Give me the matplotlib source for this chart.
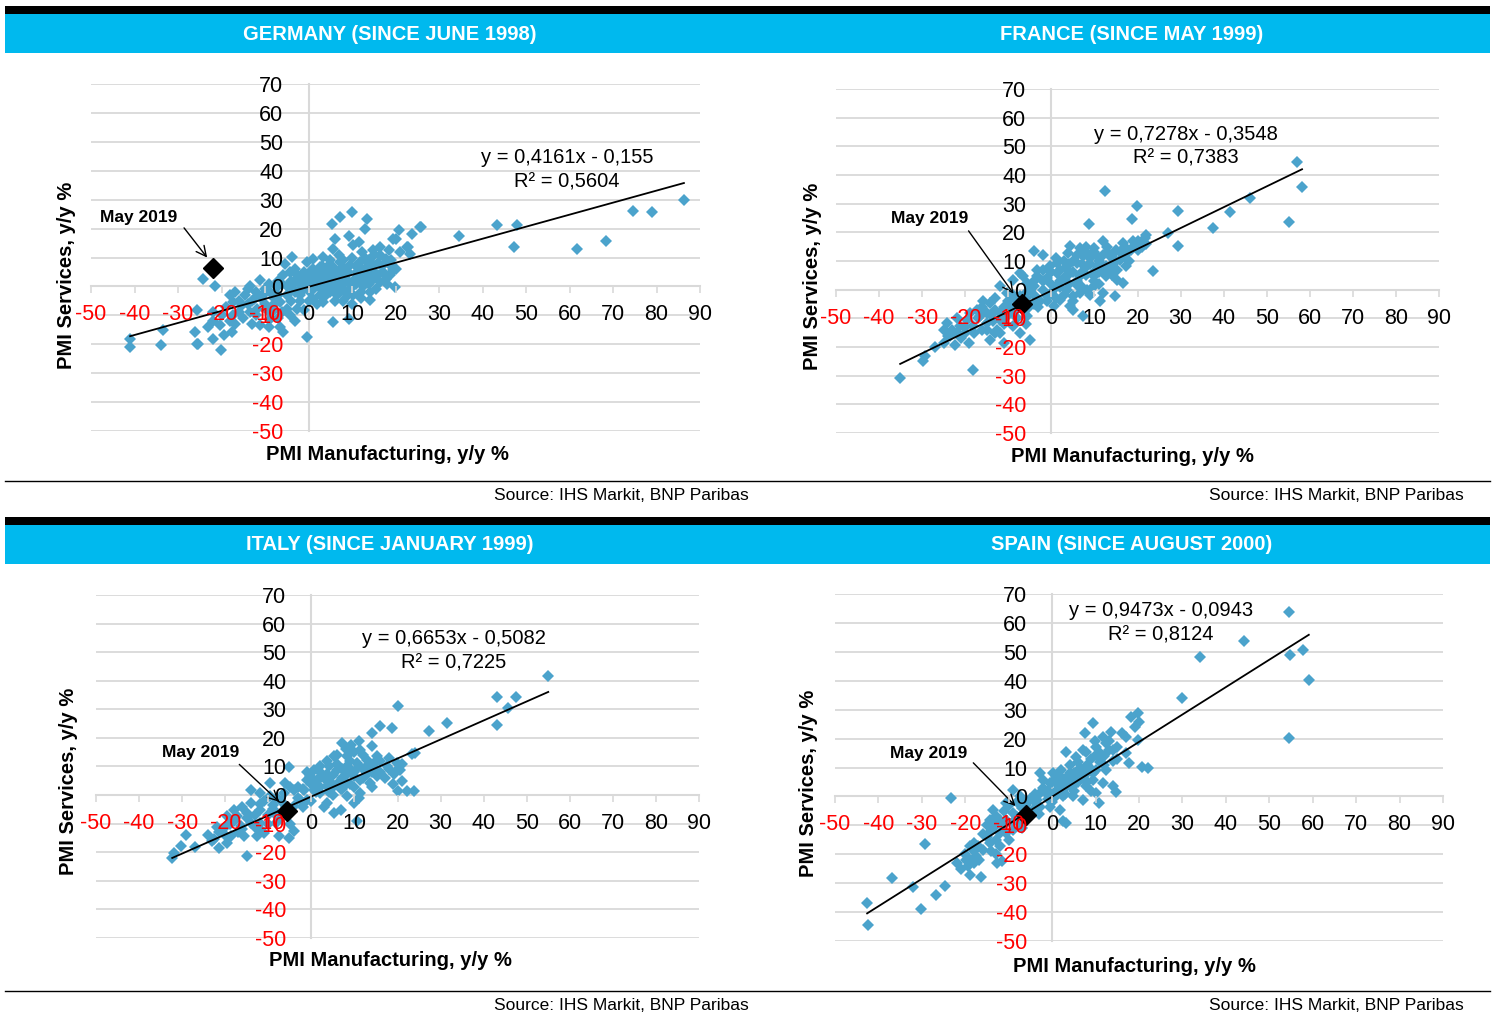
import numpy as np
import matplotlib
matplotlib.use("Agg")
import matplotlib.pyplot as plt
from matplotlib.patches import Rectangle

W, H = 1494, 1014
plt.rcParams['font.family'] = ['DejaVu Sans Condensed', 'Liberation Sans', 'DejaVu Sans']

BLUE = '#4ba3cc'
CYAN = '#00b9ee'
GRID = '#d9d9d9'

# ---- data ----
ger_points = [
    (-41, -18.3), (-41, -21), (-34, -20.4), (-33.4, -15), (-25.6, -20),
    (-26.1, -15.8), (-25.3, -19.8), (-25.7, -8.3), (-24.2, 2.6), (-21.5, 0.3), (-21.9, -8.9),
    (-20.3, -13.5), (-20.1, -21.9), (-19.5, -16.9), (-21.9, -18.1), (-17.7, -15.8), (-17.3, -10),
    (-17.3, -5.4), (-16.9, -2), (-15.4, -6.5), (-14.6, -3.1), (-13.4, 0.3), (-13.4, -8.9),
    (-12.6, -4.3), (-11.9, -7.7), (-11.1, -13.5), (-11.1, 2.1), (-10.4, -3.1), (-9.6, -7.7),
    (-8.8, -11.2), (-8.8, -2), (-8.1, -6.5), (-7.3, -0.2), (-6.5, -14), (-6.5, -5.4), (-5.8, -15.8),
    (-5.8, 3.8), (-5.4, 7.9), (-5, -3.1), (-5, -7.7), (-4.2, -10), (-4.2, 5), (-3.8, 10.2),
    (-3.5, -0.9), (-2.7, -7.7), (-2.7, 3.8), (-1.9, -3.1), (-1.9, 0.9), (-1.1, 5), (-0.4, 8.4),
    (-0.4, 1.5), (-0.4, -17.5), (0.3, -2), (0.8, 5.6), (1.1, 9.6), (1.1, 2.6), (1.1, -4.3),
    (1.9, 0.3), (2.7, 3.8), (2.7, 6.7), (2.7, -3.1), (3.4, 10.2), (3.4, -5.4), (4.2, 5), (4.2, -0.9),
    (4.6, 7.3), (5, 1.5), (5.4, 21.7), (5.7, 13), (5.7, 3.8), (5.7, 6.7), (5.7, -12.4), (6.1, 16.5),
    (6.5, -3.1), (7.2, 24), (7.2, 8.4), (7.2, 2.6), (7.2, -2), (8, 6.7), (8, 0.9), (8.7, 3.8),
    (9.2, 17.6), (9.2, -11.2), (9.5, -0.9), (9.5, 7.3), (9.9, 25.7), (10.3, 14.2), (10.3, 1.5),
    (10.3, -3.1), (11.1, 5), (11.5, 15.3), (11.8, 2.6), (11.8, 8.4), (12.2, 11.9), (12.6, 0.3),
    (13, 20), (13.4, 23.2), (13.4, 8.4), (13.4, 3.8), (14.1, 5.6), (14.2, -2), (14.2, -4.8),
    (14.9, 12.5), (14.9, 7.3), (14.9, 2.6), (15.6, -0.9), (16.4, 10.8), (16.4, 13.6), (16.4, 1.5),
    (17.2, 5), (17.9, 2.6), (17.9, 9.6), (18.4, 12.5), (18.8, 3.8), (18.8, 7.3), (19.4, 5.6),
    (19.5, 16.5), (19.9, -0.2), (20.2, 16.5), (20.7, 19.4), (22.6, 13.6), (22.9, 13.5),
    (23.4, 11.3), (23.8, 18.2), (25.7, 20.5), (25.9, 20.4),
    (2, 1), (3, 2), (4, 3), (6, 5), (8, 4), (9, 2), (11, 3), (12, 6), (13, 1), (6, 0), (3, -1),
    (0, 0), (-1, 3), (-2, -1), (5, -2), (8, -5), (10, -6), (12, -2), (15, 5), (16, 8), (-3, 2),
    (-6, 1), (-8, -4), (-10, -1), (-12, -2), (-14, -6), (-16, -9), (-18, -12), (-9, -9),
    (-22, -12), (-19, -7), (-18, -3), (-16, -5), (-15, -11), (-14, -1), (-13, -5), (-12, -10),
    (-11, -4), (-10, -6), (-9, 1), (-8, -8), (-7, -3), (-7, 2), (-6, -9), (-5, 0), (-4, -5), (-4, 2),
    (-3, -2), (-3, 6), (-2, 1), (-2, -5), (-1, -1), (-1, -8), (0, 3), (0, -5), (1, 6), (1, -1),
    (2, 4), (2, -6), (3, 0), (3, 7), (4, 1), (4, -3), (5, 4), (5, 9), (6, 2), (6, -5), (7, 5),
    (7, 11), (8, -1), (8, 9), (9, 5), (9, -3), (10, 10), (10, 0), (11, 1), (11, 7), (12, 4),
    (12, -4), (13, 6), (13, 10), (14, 1), (14, 9), (15, 3), (15, 11), (16, 4), (17, 7), (18, 1),
    (19, 9), (20, 6), (21, 12), (-20, -10), (-23, -14), (-17, -13), (-13, -13), (-9, -14),
    (-7, -11), (-3, -12),
    (34.6, 17.3), (43.3, 21.1), (47.9, 21.1), (47.3, 13.8), (61.7, 13.1), (68.4, 15.6),
    (74.6, 26), (79, 25.6), (86.3, 29.8),
]

fra_points = [
    (-35.1, -30.8), (-29.8, -25), (-29.4, -23.3), (-25, -18.6), (-25, -13.9), (-24.3, -11.6),
    (-23.5, -16.3), (-22.3, -19.2), (-21.9, -15.1), (-21.2, -12.8), (-19.6, -10.5), (-19.2, -18.6),
    (-18.1, -27.9), (-18.1, -12.8), (-17.3, -7), (-16.6, -9.3), (-15.8, -4.1), (-15, -13.9),
    (-15, -11.6), (-14.2, -17.4), (-14.2, -4.7), (-13.5, -11), (-13.1, -7), (-12.7, -13.9),
    (-11.9, 1.2), (-11.9, -10.5), (-11.1, -18.6), (-10.4, -1.2), (-10.4, -9.3), (-9.6, -5.8),
    (-8.8, 3.5), (-8.8, -12.8), (-8.1, -7), (-7.3, 5.8), (-7.3, -2.3), (-7.3, -15.1), (-6.5, 4.7),
    (-5.7, 2.3), (-5.7, -9.3), (-5.4, -6.4), (-5, -17.4), (-4.1, 13.4), (-4.1, 1.2), (-3.7, -2.3),
    (-3.4, 4.7), (-3.4, 7), (-2.6, -4.1), (-1.9, 12.2), (-1.9, 7), (-1.1, -2.3), (-0.3, 8.1),
    (0.5, -5.8), (1.3, 9.3), (1.3, 5.8), (2, -3.5), (3.6, 8.1), (3.6, 4.7), (3.6, 0), (3.9, 12.8),
    (4.3, 15.1), (4.3, -5.8), (5.1, -2.3), (5.1, -7), (5.9, 9.3), (5.9, 1.7), (6.7, 14.6),
    (6.7, 4.7), (6.7, -1.2), (7.4, 11.6), (7.4, -9.3), (8.2, 8.1), (8.2, 0), (8.8, 22.9),
    (9.8, 14.6), (9.8, 4.7), (9.8, 1.2), (10.5, 11.6), (10.5, 8.1), (11.3, -4.1), (12.1, 16.9),
    (12.1, -1.2), (12.4, 34.3), (12.8, 8.1), (12.8, 4.7), (13.6, 11.6), (14.8, -2.3), (15.2, 7),
    (15.2, 3.5), (15.9, 10.5), (16.7, 16.3), (16.7, 2.3), (17.4, 8.1), (18.6, 14), (18.8, 24.8),
    (19.8, 29.3), (21.7, 18), (23.6, 6.4), (27.1, 19.8), (29.3, 27.3), (29.4, 15.1),
    (0, 2), (2, 3), (4, 6), (5, 10), (7, 6), (9, 9), (11, 6), (13, 13), (14, 9), (15, 14), (17, 12),
    (19, 15), (20, 17), (22, 16), (-2, 0), (-4, -5), (-6, -3), (-8, -4), (-9, -8), (-11, -6),
    (-12, -15), (-14, -9), (-16, -14), (-20, -15), (-23, -14), (-1, 4), (1, 1), (3, -2), (10, 3),
    (11, 10), (8, 13),
    (-27, -20), (-24, -16), (-22, -10), (-20, -13), (-18, -15), (-17, -10), (-16, -6), (-15, -8),
    (-13, -15), (-12, -8), (-11, -12), (-10, -4), (-9, -2), (-8, -10), (-7, -6), (-6, -1),
    (-6, -12), (-5, 0), (-4, 3), (-3, -6), (-2, 3), (-1, -4), (0, 6), (0, -1), (1, 11), (1, -3),
    (2, 7), (2, 1), (3, 10), (3, 4), (4, 2), (4, 9), (5, 6), (5, -4), (6, 12), (6, 3), (7, 9),
    (7, 1), (8, 5), (8, 15), (9, 11), (9, -2), (10, 6), (10, 13), (11, 2), (12, 8), (12, 12),
    (13, 7), (13, 15), (14, 12), (14, 5), (15, 10), (16, 13), (17, 15), (18, 10), (19, 17),
    (20, 14), (21, 15), (22, 19), (-13, -3), (-19, -8), (-21, -17),
    (37.5, 21.6), (41.5, 27.2), (46.1, 32.1), (55.1, 23.7), (57, 44.6), (58.2, 35.9),
]

ita_points = [
    (-32.3, -21.9), (-31.9, -20.2), (-30.3, -17.9), (-29.2, -13.8), (-22.5, -15.5), (-21.4, -18.4),
    (-21.4, -12.8), (-19.5, -16.6), (-19.5, -7.4), (-18.7, -14.3), (-17.9, -5.1), (-17.2, -7.4),
    (-16.4, -10.8), (-15.7, -14.3), (-14.9, -21.4), (-14.9, -6.2), (-14.1, 1.9), (-14.1, -2.8),
    (-14.1, -9.7), (-12.6, -14.3), (-11.9, 0.8), (-11.9, -5.1), (-11.9, -9.7), (-11.1, -13.2),
    (-9.5, 4.3), (-9.5, -0.4), (-9, -3.3), (-8.7, -6.2), (-8.3, -9.7), (-7.5, -14.3), (-6.4, 0.8),
    (-6.1, 4.3), (-5.3, 9.7), (-5.3, -14.9), (-4.1, 1.9), (-4.1, -3.9), (-4.1, -12.6), (-2.6, -1.6),
    (-1.8, 1.9), (-1, 5.4), (-1, -1.6), (-0.2, 6.6), (0.5, 8.9), (0.5, 1.9), (1.3, 5.4), (2.1, 10.1),
    (2.1, 0.7), (3.6, 11.9), (3.6, 7.5), (3.6, 3.1), (3.6, -2.8), (5.2, 13.6), (5.2, 3.1),
    (5.2, -6.2), (6, 8.9), (6.8, 2), (6.8, -5.1), (7.1, 18.2), (8.3, 13.6), (8.3, 10.1), (8.3, 4.3),
    (8.3, -0.4), (9.1, 17.6), (9.8, 6.6), (9.8, -2.8), (10.6, 11.3), (10.6, -9.2), (11, 18.8),
    (11.4, 15.9), (11.4, 5.4), (11.4, 0.7), (12.9, 12.4), (12.9, 7.5), (13.7, 4.3), (14.1, 21.7),
    (14.5, 11.3), (15.2, 13.6), (15.2, 6.6), (16, 24.1), (17.6, 10.1), (18.7, 23.5), (19.1, 7.5),
    (19.9, 11.3), (20, 31.3), (20, 1.4), (20.6, 8.9), (21.1, 4.9), (22.2, 1.4), (23.4, 14.2),
    (23.8, 1.4), (24.1, 14.7), (27.3, 22.3), (31.5, 25.2),
    (1, 3), (2, 6), (4, 5), (6, 11), (7, 6), (9, 9), (10, 3), (12, 9), (14, 8), (16, 8), (-2, -4),
    (-3, 3), (-7, -2), (-10, -7), (-12, -3), (-13, -11), (-16, -12), (-18, -9), (-20, -11),
    (-23, -16),
    (-27, -18), (-24, -14), (-22, -11), (-20, -14), (-19, -10), (-17, -13), (-16, -4), (-15, -8),
    (-13, -7), (-12, -12), (-11, -2), (-10, -10), (-9, -5), (-8, -1), (-7, -8), (-6, -4),
    (-5, -10), (-5, 3), (-3, -1), (-2, 2), (-1, 8), (0, 4), (0, -2), (1, 1), (2, 8), (2, 3), (3, 6),
    (3, -4), (4, 10), (4, 1), (5, 7), (5, 0), (6, 4), (6, 14), (7, 9), (7, 2), (8, 7), (8, 16),
    (9, 12), (9, 4), (10, 8), (10, 15), (11, 10), (11, -1), (12, 6), (12, 14), (13, 10), (14, 3),
    (15, 9), (16, 12), (17, 6), (18, 9), (19, 4), (20, 9), (21, 11), (14, 17), (18, 13),
    (43.2, 34.4), (43.2, 24.6), (45.7, 30.6), (47.4, 34.4), (55, 41.8),
]

spa_points = [
    (-42.6, -36.9), (-42.3, -44.4), (-36.8, -28.3), (-32, -31.2), (-30.3, -38.9), (-29.2, -16.5),
    (-26.7, -34), (-24.6, -30.9), (-23.4, -0.6), (-19.8, -22), (-19.4, -24.2), (-19, -27.1),
    (-19, -21.9), (-17.9, -23.1), (-17.5, -20.7), (-16.8, -21.9), (-16.3, -27.9), (-16, -18.4),
    (-14.4, -8), (-14.4, -16.1), (-13.6, -4.6), (-12.9, -6.9), (-12.9, -15), (-12.7, -23),
    (-12.1, -12.7), (-12.1, -17.3), (-11.6, -22.4), (-10.6, -2.3), (-10.6, -8), (-10.6, -12.7),
    (-9, 2.3), (-9, -5.7), (-9, -11.5), (-7.5, 0), (-7.5, -9.2), (-6.7, -1.2), (-4.4, -4.6),
    (-3.6, -1.2), (-2.9, 8), (-2.9, 1.1), (-2.9, -3.5), (-2.1, 5.7), (-1.3, 1.1), (-0.6, 4.6),
    (-0.6, -3.5), (0.2, 8), (0.2, 0), (0.9, 4.6), (1.7, 6.9), (1.7, -4.6), (2.5, 5.7), (2.5, 0),
    (2.5, -8.6), (3.2, 15.5), (3.2, -9.2), (4, 8), (4.8, 5.7), (4.8, 0), (5.6, 13.8), (6.3, 9.8),
    (7.1, 6.3), (7.1, -1.2), (7.5, 21.8), (7.8, 15.5), (7.8, 3.5), (8.6, 10.3), (9.4, 25.5),
    (9.4, 5.7), (9.4, 8), (9.8, 19), (10.2, 14.3), (10.2, 1.1), (10.9, -2.3), (11.7, 20.7),
    (11.7, 4.6), (12.5, 18.4), (12.5, 9.2), (13.6, 22.4), (14, 12.1), (14, 3.5), (14.8, 1.7),
    (17.1, 20.7), (17.8, 11.5), (18.2, 27.6), (19.8, 28.8), (19.8, 19.5), (20.1, 25.9),
    (20.8, 10.2), (22.1, 9.8),
    (1, 2), (3, 3), (5, 4), (6, 7), (8, 8), (11, 12), (12, 14), (13, 16), (15, 17), (-1, -1),
    (-4, -2), (-5, -6), (-7, -4), (-8, -7), (-11, -10), (-14, -12), (-15, -14), (-18, -19),
    (-22, -23), (-20, -20), (-18, -16), (-17, -17), (-16, -13), (-15, -10), (-14, -19), (-13, -10),
    (-12, -8), (-11, -5), (-10, -15), (-10, -3), (-9, -9), (-8, -2), (-7, -11), (-6, -3), (-5, -1),
    (-4, 1), (-3, -6), (-2, 3), (-1, 2), (0, 5), (0, -2), (1, 7), (1, 0), (2, 4), (2, 9), (3, 6),
    (3, 1), (4, 4), (4, 11), (5, 8), (5, 2), (6, 5), (6, 12), (7, 9), (7, 16), (8, 11), (8, 5),
    (9, 13), (9, 2), (10, 9), (10, 17), (11, 15), (12, 11), (13, 19), (14, 16), (15, 13), (16, 22),
    (17, 15), (19, 24), (-19, -17), (-21, -25), (-13, -20),
    (29.8, 34.1), (34, 48.2), (44.1, 53.8), (54.5, 63.8), (54.7, 48.9), (57.7, 50.7),
    (59.1, 40.3), (54.5, 20.2),
]

# trend line coefficients and labels as printed on the chart
slopes = [0.4161, 0.7278, 0.6653, 0.9473]
intercepts = [-0.155, -0.3548, -0.5082, -0.0943]
eq_texts = ['y = 0,4161x - 0,155\nR² = 0,5604',
            'y = 0,7278x - 0,3548\nR² = 0,7383',
            'y = 0,6653x - 0,5082\nR² = 0,7225',
            'y = 0,9473x - 0,0943\nR² = 0,8124']
may_2019 = [(-21.9, 6.2), (-6.9, -4.9), (-5.6, -5.4), (-6.1, -6.4)]
titles = ['GERMANY (SINCE JUNE 1998)', 'FRANCE (SINCE MAY 1999)',
          'ITALY (SINCE JANUARY 1999)', 'SPAIN (SINCE AUGUST 2000)']
x_ticks = list(range(-50, 100, 10))
y_ticks = list(range(-50, 80, 10))

# ---- layout (pixels) ----
# plot area: left(-50), right(90), top(70), bottom(-50)
boxes = [(91, 700, 84, 431), (836, 1439, 89, 433), (96, 699, 595, 938), (835, 1443, 594, 941)]
eq_pos = [(59.4, 40.3), (31.2, 50), (33, 50.5), (25, 60.1)]
note_text = [(-39, 23.9), (-28.2, 24.8), (-25.8, 14.9), (-28.4, 14.7)]
arrow_from = [(-29, 21), (-19.6, 21.3), (-17.2, 11.4), (-18.6, 12.3)]
arrow_to = [(-22.9, 9.2), (-8.4, -2.2), (-7.0, -3.0), (-8.0, -4.0)]
xlab_pos = [(387, 455), (1132, 457), (390, 961), (1134, 967)]
ylab_pos = [(66, 275), (812, 276), (68, 781), (808, 783)]
title_pos = [(390, 34), (1132, 34), (390, 544), (1132, 544)]
src_pos = [(749, 495), (1464, 495), (749, 1005), (1464, 1005)]

fig = plt.figure(figsize=(W / 100, H / 100), dpi=100)

bg = fig.add_axes([0, 0, 1, 1])
bg.set_xlim(0, W)
bg.set_ylim(H, 0)
bg.axis('off')
for top in (6, 517):
    bg.add_patch(Rectangle((5, top), 1485, 8, color='black', lw=0))
    bg.add_patch(Rectangle((5, top + 8), 1485, 39, color=CYAN, lw=0))
for yl in (481, 991):
    bg.plot([5, 1490], [yl, yl], color='black', lw=1)

all_points = [ger_points, fra_points, ita_points, spa_points]

for i in range(4):
    pts = np.array(all_points[i])
    left, right, top, bottom = boxes[i]
    ax = fig.add_axes([left / W, 1 - bottom / H, (right - left) / W, (bottom - top) / H])
    ax.set_xlim(-50, 90)
    ax.set_ylim(-50, 70)
    ax.patch.set_alpha(0)

    ax.spines['top'].set_visible(False)
    ax.spines['right'].set_visible(False)
    ax.spines['left'].set_position(('data', 0))
    ax.spines['bottom'].set_position(('data', 0))
    for s in ('left', 'bottom'):
        ax.spines[s].set_color(GRID)
        ax.spines[s].set_linewidth(1.5)
        ax.spines[s].set_zorder(1)

    # gridlines under the markers, tick labels above them (as in Excel)
    for v in y_ticks:
        ax.axhline(v, color=GRID, lw=1.3, zorder=0.5)
    ax.xaxis.set_zorder(7)
    ax.yaxis.set_zorder(7)

    ax.set_xticks(x_ticks, labels=[str(v) for v in x_ticks])
    ax.set_yticks(y_ticks, labels=[str(v) for v in y_ticks])
    ax.tick_params(axis='x', direction='out', length=5, width=1.2, color=GRID, pad=8, labelsize=15.5)
    ax.tick_params(axis='y', direction='out', length=0, pad=18, labelsize=15.5)
    for lbl, v in zip(ax.get_xticklabels(), x_ticks):
        lbl.set_color('red' if v < 0 else 'black')
    for lbl, v in zip(ax.get_yticklabels(), y_ticks):
        lbl.set_color('red' if v < 0 else 'black')

    ax.plot(pts[:, 0], pts[:, 1], 'D', ms=6, color=BLUE, mew=0, zorder=3)

    xs = np.array([pts[:, 0].min(), pts[:, 0].max()])
    ax.plot(xs, slopes[i] * xs + intercepts[i], color='black', lw=1.3, zorder=4)

    mx, my = may_2019[i]
    ax.plot(mx, my, 'D', ms=10, color='black', zorder=5)
    ax.annotate('', xy=arrow_to[i], xytext=arrow_from[i],
                arrowprops=dict(arrowstyle='->', color='black', lw=1, mutation_scale=18), zorder=6)
    ax.text(note_text[i][0], note_text[i][1], 'May 2019', ha='center', va='center',
            fontsize=12.5, fontweight='bold')
    ax.text(eq_pos[i][0], eq_pos[i][1], eq_texts[i], ha='center', va='center',
            fontsize=14.5, linespacing=1.35)

    bg.text(xlab_pos[i][0], xlab_pos[i][1], 'PMI Manufacturing, y/y %', ha='center', va='center',
            fontsize=14.5, fontweight='bold')
    bg.text(ylab_pos[i][0], ylab_pos[i][1], 'PMI Services, y/y %', ha='center', va='center',
            rotation=90, fontsize=14.5, fontweight='bold')
    bg.text(title_pos[i][0], title_pos[i][1], titles[i], ha='center', va='center',
            fontsize=14.5, fontweight='bold', color='white')
    bg.text(src_pos[i][0], src_pos[i][1], 'Source: IHS Markit, BNP Paribas', ha='right', va='center',
            fontsize=12.5)

fig.savefig('out.png', dpi=100)
